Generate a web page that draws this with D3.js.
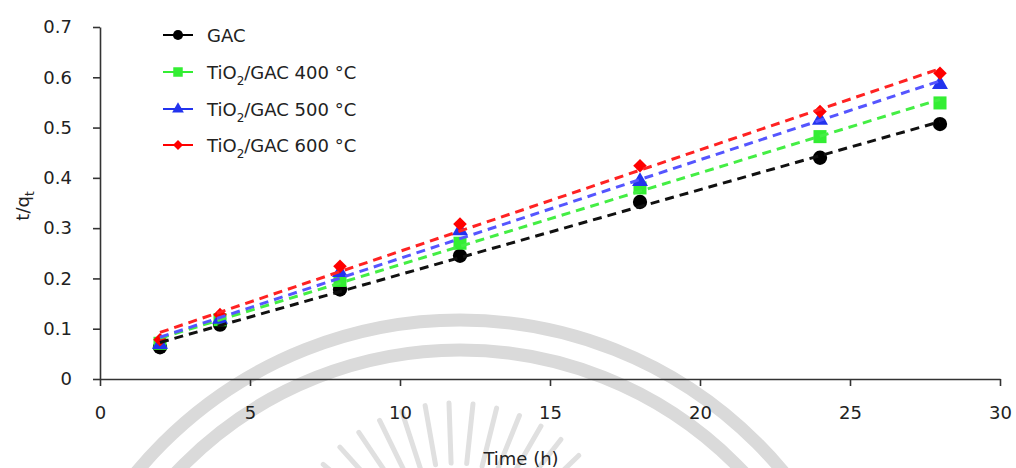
<!DOCTYPE html>
<html>
<head>
<meta charset="utf-8">
<script src="https://cdn.jsdelivr.net/npm/d3@7"></script>
<style>
  html, body { margin: 0; padding: 0; background: #fff; }
  svg { display: block; font-family: "DejaVu Sans", Verdana, sans-serif; }
</style>
</head>
<body>
<svg id="chart" width="1016" height="468"></svg>
<script>
// ---- data ----
const times   = [2, 4, 8, 12, 18, 24, 28];
const gac     = [0.063, 0.108, 0.178, 0.245, 0.352, 0.440, 0.507];
const tio400  = [0.071, 0.118, 0.196, 0.270, 0.380, 0.482, 0.549];
const tio500  = [0.069, 0.119, 0.212, 0.295, 0.393, 0.515, 0.586];
const tio600  = [0.078, 0.128, 0.224, 0.308, 0.424, 0.532, 0.608];
const seriesNames = ["GAC", "TiO2/GAC 400 °C", "TiO2/GAC 500 °C", "TiO2/GAC 600 °C"];
const xTicks = [0, 5, 10, 15, 20, 25, 30];
const yTicks = [0, 0.1, 0.2, 0.3, 0.4, 0.5, 0.6, 0.7];

const series = [
  { name: seriesNames[0], values: gac,    color: "#000000", line: "#111111", shape: d3.symbolCircle,   size: 160, lsize: 80, rot: 0 },
  { name: seriesNames[1], values: tio400, color: "#33ee33", line: "#44ee44", shape: d3.symbolSquare,   size: 170, lsize: 90, rot: 0 },
  { name: seriesNames[2], values: tio500, color: "#2233ee", line: "#5555ff", shape: d3.symbolTriangle, size: 110, lsize: 60, rot: 0 },
  { name: seriesNames[3], values: tio600, color: "#ff0000", line: "#ff2222", shape: d3.symbolSquare,   size: 92,  lsize: 50, rot: 45 }
];

const svg = d3.select("#chart");
const x = d3.scaleLinear().domain([0, 30]).range([100, 1000]);
const y = d3.scaleLinear().domain([0, 0.7]).range([379, 27]);

// ---- faint watermark (decoration) ----
const wm = svg.append("g").attr("pointer-events", "none");
[420, 390].forEach(r => {
  wm.append("circle").attr("cx", 460).attr("cy", 740).attr("r", r)
    .attr("fill", "none").attr("stroke", "#dadada").attr("stroke-width", 13);
});
d3.range(-140, -35, 8).forEach(a => {
  const rad = a * Math.PI / 180;
  wm.append("line")
    .attr("x1", 455 + Math.cos(rad) * 112).attr("y1", 575 + Math.sin(rad) * 112)
    .attr("x2", 455 + Math.cos(rad) * 172).attr("y2", 575 + Math.sin(rad) * 172)
    .attr("stroke", "#e0e0e0").attr("stroke-width", 5).attr("stroke-linecap", "round");
});

// ---- axes ----
const axisColor = "#333";
const xAxis = svg.append("g").attr("transform", `translate(0,${y(0)})`)
  .call(d3.axisBottom(x).tickValues(xTicks).tickSize(7).tickSizeOuter(0).tickPadding(20).tickFormat(d3.format("d")));
const yAxis = svg.append("g").attr("transform", `translate(${x(0)},0)`)
  .call(d3.axisLeft(y).tickValues(yTicks).tickSize(7).tickSizeOuter(0).tickPadding(21)
    .tickFormat(d => d === 0 ? "0" : d.toFixed(1)));
[xAxis, yAxis].forEach(g => {
  g.select(".domain").attr("stroke", axisColor).attr("stroke-width", 1.6);
  g.selectAll(".tick line").attr("stroke", axisColor).attr("stroke-width", 1.6);
  g.selectAll(".tick text").attr("fill", "#222").style("font-size", "18px")
    .style("font-family", "'DejaVu Sans', Verdana, sans-serif");
});

// axis titles
svg.append("text").attr("x", 521).attr("y", 465).attr("text-anchor", "middle")
  .style("font-size", "18px").attr("fill", "#222").text("Time (h)");
const yt = svg.append("text").attr("transform", "translate(29,206) rotate(-90)")
  .attr("text-anchor", "middle").style("font-size", "18px").attr("fill", "#222");
yt.append("tspan").text("t/q");
yt.append("tspan").attr("dy", 5).style("font-size", "12px").text("t");

// ---- markers ----
const sym = d3.symbol();
series.forEach(s => {
  svg.append("g").selectAll("path").data(times.map((t, i) => [t, s.values[i]])).join("path")
    .attr("transform", d => `translate(${x(d[0])},${y(d[1])}) rotate(${s.rot})`)
    .attr("d", sym.type(s.shape).size(s.size)())
    .attr("fill", s.color);
});

// ---- linear trend lines (least squares fit of each series) ----
series.forEach(s => {
  const n = times.length;
  const mx = d3.mean(times), my = d3.mean(s.values);
  let sxy = 0, sxx = 0;
  for (let i = 0; i < n; i++) { sxy += (times[i] - mx) * (s.values[i] - my); sxx += (times[i] - mx) ** 2; }
  const b = sxy / sxx, a = my - b * mx;
  const x0 = d3.min(times), x1 = d3.max(times);
  svg.append("line")
    .attr("x1", x(x0)).attr("y1", y(a + b * x0))
    .attr("x2", x(x1)).attr("y2", y(a + b * x1))
    .attr("stroke", s.line).attr("stroke-width", 3).attr("stroke-dasharray", "9,6");
});

// ---- legend ----
const legY = [35, 72, 109, 145];
const leg = svg.append("g");
series.forEach((s, i) => {
  const g = leg.append("g").attr("transform", `translate(0,${legY[i]})`);
  g.append("line").attr("x1", 163).attr("x2", 193).attr("y1", 0).attr("y2", 0)
    .attr("stroke", s.color).attr("stroke-width", 2);
  g.append("path").attr("transform", `translate(178,0) rotate(${s.rot})`)
    .attr("d", sym.type(s.shape).size(s.lsize)()).attr("fill", s.color);
  const t = g.append("text").attr("x", 207).attr("y", 6.5).style("font-size", "18px").attr("fill", "#222");
  if (s.name.startsWith("TiO2")) {
    t.append("tspan").text("TiO");
    t.append("tspan").attr("dy", 6).style("font-size", "12px").text("2");
    t.append("tspan").attr("dy", -6).text(s.name.slice(4));
  } else {
    t.text(s.name);
  }
});
</script>
</body>
</html>
